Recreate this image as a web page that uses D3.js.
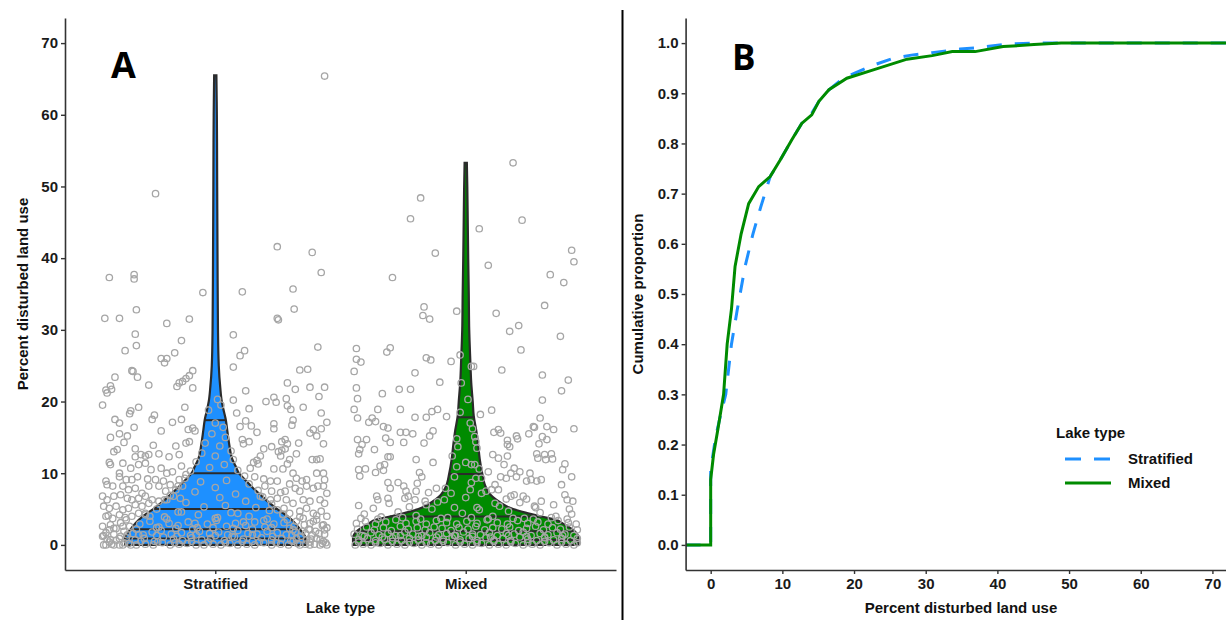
<!DOCTYPE html>
<html><head><meta charset="utf-8">
<script src="https://cdn.jsdelivr.net/npm/d3@7"></script>
<style>
body{margin:0;background:#fff}
svg{display:block}
text{font-family:"Liberation Sans",Arial,sans-serif}
</style>
</head><body>
<svg id="chart" width="1226" height="620"></svg>
<script>
// ---------------- DATA ----------------
const categories = ["Stratified", "Mixed"];
const yTicksA = [0, 10, 20, 30, 40, 50, 60, 70];
const yTicksB = [0, 0.1, 0.2, 0.3, 0.4, 0.5, 0.6, 0.7, 0.8, 0.9, 1.0];
const xTicksB = [0, 10, 20, 30, 40, 50, 60, 70];
const seriesNames = ["Stratified", "Mixed"];

// points: [jitter fraction (-1..1), percent disturbed land use]
const stratifiedPoints = [
[0.97,65.4],[-0.53,49.0],[-0.94,37.3],[-0.72,37.7],[-0.72,37.1],[0.55,41.6],[0.86,40.8],[0.94,38.0],[-0.11,35.2],[0.24,35.3],[0.69,35.7],[0.70,32.9],[-0.70,32.8],
[-0.98,31.6],[-0.85,31.6],[-0.43,30.9],[-0.23,31.5],[-0.71,29.4],[-0.80,27.1],[-0.70,27.8],[-0.30,28.5],[-0.36,26.8],[-0.48,26.0],[-0.43,26.0],[-0.45,25.4],[-0.74,24.3],[-0.73,24.2],[-0.69,23.4],[-0.59,22.3],[-0.89,23.4],[-0.93,22.2],[-0.97,21.6],[-0.96,21.2],[-0.92,21.7],[-0.20,24.3],[-0.23,23.6],[-0.26,23.2],[-0.29,22.8],[-0.32,22.6],[-0.34,22.1],[-0.20,21.9],[-1.0,19.5],[-0.68,19.2],[-0.75,18.7],[-0.76,18.3],[-0.27,19.2],[-0.89,17.5],[-0.85,17.0],[-0.56,17.5],[-0.54,18.1],[-0.72,16.4],[-0.48,15.9],[-0.38,17.1],[-0.30,17.5],[-0.93,15.0],[-0.85,15.5],[-0.78,15.2],[-0.81,14.3],[-0.90,13.0],[-0.87,13.3],[-0.71,13.4],[-0.55,13.9],[-0.35,13.8],[-0.26,14.2],[-0.23,14.4],[-0.24,16.1],[-0.20,16.3],[-0.18,15.9],[-0.94,11.5],[-0.93,11.2],[-0.82,11.4],[-0.71,12.3],[-0.66,12.6],[-0.62,12.4],[-0.59,12.6],[-0.50,12.7],[-0.41,12.3],[-0.32,12.6],[-0.30,11.0],[-0.75,10.7],[-0.68,11.2],[-0.62,11.4],[-0.57,10.5],[-0.48,10.7],[-0.43,10.0],[-0.38,10.2],[-0.85,10.0],[-0.85,9.5],[-0.79,9.1],[-0.74,9.1],[-0.69,9.5],[-0.60,9.2],[-0.53,9.1],[-0.46,8.9],[-0.40,8.4],[-0.32,9.1],[-0.26,9.8],[-0.97,8.9],[-0.96,8.4],[-0.91,8.2],[-0.82,8.2],[-0.77,7.7],[-0.71,7.9],[-0.65,7.2],[-0.59,8.2],[-0.50,8.2],[-0.44,7.5],[-0.35,7.7],[-0.29,8.2],[-1.0,6.8],[-0.96,6.3],[-0.90,6.8],[-0.84,7.0],[-0.78,6.5],[-0.74,6.3],[-0.68,6.5],[-0.62,6.8],[-0.56,6.3],[-0.50,6.1],[-0.43,6.3],[-0.37,6.8],[-0.31,6.5],[-0.99,5.4],[-0.94,5.1],[-0.88,5.4],[-0.82,4.9],[-0.77,5.1],[-0.71,5.6],[-0.65,5.4],[-0.59,5.8],[-0.97,4.0],[-0.91,3.7],[-0.85,4.2],[-0.79,3.5],[-0.74,4.0],[-0.68,4.4],[-0.62,4.2],[-1.0,2.6],[-0.94,2.1],[-0.88,2.3],[-0.82,2.6],[-1.0,1.2],[-0.93,0.7],[-0.85,0.9],[-0.78,1.4],[-0.97,0],[-0.90,0],[-0.82,0],[-0.75,0],
[0.55,31.6],[0.56,31.4],[0.16,29.3],[0.26,27.1],[0.22,26.4],[0.16,24.8],[0.91,27.6],[0.75,24.4],[0.82,24.5],[0.64,22.6],[0.71,21.7],[0.84,22.0],[0.97,22.0],[0.27,21.5],[0.92,20.7],[0.52,20.6],[0.45,20.0],[0.54,19.9],[0.63,20.4],[0.64,19.4],[0.67,18.9],[0.78,19.2],[0.16,20.2],[0.30,19.0],[0.19,18.4],[0.94,18.4],[0.99,17.1],[0.69,17.4],[0.68,16.7],[0.27,17.3],[0.22,16.5],[0.32,16.6],[0.52,16.9],[0.52,16.2],[0.37,15.7],[0.84,15.6],[0.87,16.1],[0.90,15.2],[0.94,16.2],[0.96,14.1],[0.24,14.7],[0.25,14.1],[0.30,14.4],[0.50,13.7],[0.56,13.0],[0.59,14.4],[0.62,14.7],[0.64,14.1],[0.62,13.4],[0.74,14.2],[0.72,12.7],[0.43,13.4],[0.40,12.4],[0.37,11.8],[0.34,11.5],[0.38,11.3],[0.58,12.4],[0.59,13.2],[0.66,11.9],[0.64,11.3],[0.86,11.9],[0.90,11.9],[0.93,12.0],[0.31,10.7],[0.52,10.6],[0.60,10.6],[0.69,10.0],[0.72,9.3],[0.77,8.9],[0.81,9.1],[0.90,10.0],[0.96,10.0],[0.97,9.1],[0.35,9.5],[0.43,9.2],[0.49,8.9],[0.55,8.9],[0.44,8.2],[0.50,7.5],[0.58,7.3],[0.62,7.5],[0.66,8.5],[0.71,7.9],[0.75,7.5],[0.81,8.2],[0.87,7.9],[0.91,8.2],[0.96,8.2],[0.99,7.2],[0.40,6.8],[0.49,6.3],[0.55,6.5],[0.63,6.3],[0.69,5.8],[0.78,6.3],[0.84,6.1],[0.93,6.3],[0.97,5.8],[0.55,4.9],[0.61,5.1],[0.66,4.4],[0.75,4.7],[0.81,5.1],[0.87,4.4],[0.94,4.7],[0.99,4.0],[0.64,3.5],[0.72,3.3],[0.78,3.7],[0.84,3.0],[0.90,3.5],[0.96,2.8],[0.69,2.1],[0.77,1.9],[0.84,2.1],[0.92,1.6],[0.97,2.1],[0.72,0.9],[0.81,0.7],[0.90,0.9],[0.96,0.5],[0.75,0],[0.84,0],[0.93,0],[0.99,0],
[0.02,20.3],[0.05,19.5],[-0.06,18.8],[0.0,17.0],[0.07,16.4],[-0.03,15.5],[0.09,15.0],[-0.09,14.2],[0.04,13.8],[0.14,13.1],[-0.12,12.8],[0.0,12.4],[0.16,11.9],[-0.17,11.6],[0.08,11.2],[-0.05,10.8],[0.2,10.4],[-0.22,10.3],[0.26,9.6],[-0.27,9.3],[0.1,9.0],[-0.13,8.8],[0.3,8.5],[-0.33,8.2],[0.0,8.0],[0.38,7.6],[-0.18,7.4],[0.18,7.1],[-0.4,6.9],[0.42,6.7],[0.04,6.6],[-0.45,6.3],[0.27,6.1],[-0.26,5.9],[0.5,5.7],[0.09,5.5],[-0.1,5.3],[0.36,5.2],[-0.52,5.0],[0.48,4.8],[-0.33,4.6],[0.2,4.4],[0.6,4.2],[-0.58,4.0],[0.02,3.8],[-0.43,3.6],[0.43,3.4],[0.25,3.2],[-0.18,3.0],
[-0.99,0],[-0.92,0.1],[-0.85,0],[-0.77,0.2],[-0.70,0],[-0.62,0.1],[-0.55,0],[-0.47,0.3],[-0.40,0],[-0.32,0.1],[-0.25,0.2],[-0.17,0],[-0.10,0],[-0.02,0.1],[0.05,0],[0.13,0.2],[0.20,0],[0.28,0.1],[0.35,0],[0.43,0.3],[0.50,0],[0.58,0.1],[0.65,0],[0.73,0.2],[0.80,0.1],[0.88,0.1],[0.95,0.2],
[-0.94,0.4],[-0.81,0.3],[-0.66,0.5],[-0.51,0.4],[-0.36,0.3],[-0.21,0.5],[-0.06,0.4],[0.09,0.3],[0.24,0.5],[0.39,0.4],[0.54,0.3],[0.69,0.5],[0.84,0.4],[0.98,0.3],
[-0.96,0.8],[-0.88,0.6],[-0.79,1.0],[-0.71,0.7],[-0.63,0.9],[-0.54,0.5],[-0.46,1.1],[-0.37,0.8],[-0.29,0.6],[-0.21,1.0],[-0.12,0.7],[-0.04,0.9],[0.08,0.6],[0.17,1.1],[0.25,0.8],[0.33,0.5],[0.41,1.0],[0.50,0.7],[0.59,0.9],[0.67,0.6],[0.76,1.2],[0.85,0.8],[0.93,0.7],
[-0.99,1.3],[-0.84,1.2],[-0.68,1.4],[-0.52,1.3],[-0.34,1.2],[-0.17,1.4],[0.0,1.3],[0.15,1.2],[0.33,1.4],[0.51,1.2],[0.68,1.3],[0.86,1.4],
[-0.97,1.7],[-0.90,1.5],[-0.81,1.9],[-0.73,1.6],[-0.64,1.4],[-0.56,1.8],[-0.48,2.0],[-0.39,1.5],[-0.30,1.7],[-0.22,1.3],[-0.14,1.9],[-0.05,1.6],[0.03,1.8],[0.11,1.4],[0.20,2.0],[0.29,1.6],[0.37,1.5],[0.46,1.9],[0.55,1.7],[0.63,1.4],[0.71,1.8],[0.80,1.6],[0.89,1.9],[0.97,1.5],
[-0.9,2.3],[-0.7,2.2],[-0.52,2.4],[-0.35,2.3],[-0.2,2.2],[-0.02,2.4],[0.16,2.3],[0.33,2.2],[0.5,2.4],[0.66,2.3],[0.83,2.2],[0.99,2.4],
[-0.93,2.8],[-0.84,3.1],[-0.76,2.6],[-0.67,2.9],[-0.58,3.3],[-0.50,2.5],[-0.41,3.0],[-0.33,2.7],[-0.24,3.2],[-0.16,2.4],[-0.07,2.9],[0.01,3.4],[0.10,2.6],[0.18,3.0],[0.27,2.7],[0.35,3.2],[0.44,2.5],[0.52,2.9],[0.61,3.1],[0.70,2.6],[0.79,2.8],[0.87,3.3],[0.95,2.7],
[-0.95,4.1],[-0.80,3.8],[-0.62,4.4],[-0.45,3.9],[-0.30,4.6],[-0.15,4.2],[0.0,3.7],[0.14,4.5],[0.30,4.0],[0.46,3.6],[0.60,4.3],[0.75,3.9],[0.90,4.1]
];

const mixedPoints = [
[0.42,53.3],[-0.40,48.4],[-0.49,45.5],[0.50,45.3],[0.12,44.1],[-0.27,40.7],[0.20,39.0],[-0.65,37.3],[0.94,41.1],[0.96,39.5],[0.75,37.7],[0.87,36.6],[0.70,33.4],[-0.37,33.2],
[-0.38,32.0],[-0.32,31.5],[-0.08,32.6],[-0.97,27.4],[-0.97,25.9],[-0.93,25.5],[-0.70,26.9],[-0.67,27.5],[-0.99,24.2],[-0.35,26.1],[-0.31,25.8],[-0.13,25.6],[-0.45,24.0],[-0.97,21.9],[-0.96,20.4],[-0.74,21.1],[-0.59,21.7],[-0.49,21.7],[-0.23,22.7],[-0.99,18.9],[-0.96,17.7],[-0.78,18.9],[-0.58,18.9],[-0.86,17.1],[-0.83,17.7],[-0.80,17.2],[-0.45,17.8],[-0.35,17.8],[-0.30,18.6],[-0.25,18.9],[-0.17,17.9],[-0.73,16.5],[-0.69,16.3],[-0.58,15.7],[-0.53,15.7],[-0.47,15.5],[-0.29,15.9],[-0.32,15.2],[-0.37,14.2],[-0.71,14.9],[-0.67,14.3],[-0.96,14.7],[-0.88,14.7],[-0.92,14.0],[-0.94,13.3],[-0.95,12.7],[-0.55,14.3],[-0.81,13.3],[-0.69,12.3],[-0.67,12.3],[-0.44,11.9],[-0.29,11.5],[-0.95,10.5],[-0.89,10.6],[-0.94,9.6],[-0.80,10.1],[-0.76,11.0],[-0.73,10.4],[-0.72,11.2],[-0.41,10.1],[-0.39,9.5],[-0.43,8.6],[-0.69,8.7],[-0.60,8.7],[-0.67,7.9],[-0.55,8.2],[-0.53,7.5],[-0.44,7.5],[-0.33,7.3],[-0.79,6.8],[-0.78,6.3],[-0.69,6.5],[-0.54,6.5],[-0.51,6.8],[-0.45,6.3],[-0.36,6.1],[-0.26,7.9],[-0.19,6.3],[-0.13,7.2],[-0.08,10.9],[-0.07,13.7],[-0.04,22.6],
[0.27,32.3],[0.39,29.8],[0.47,30.6],[0.84,29.1],[0.49,27.2],[0.05,24.9],[0.32,24.4],[0.68,23.7],[0.91,23.0],[0.85,21.5],[0.68,20.2],[0.23,18.8],[0.13,18.2],[0.66,17.7],[0.60,16.5],[0.61,16.4],[0.72,16.5],[0.78,16.1],[0.96,16.2],[0.25,15.7],[0.29,16.1],[0.31,15.6],[0.56,15.5],[0.45,15.2],[0.46,14.8],[0.68,15.1],[0.72,14.7],[0.65,14.1],[0.37,14.6],[0.37,14.0],[0.39,13.7],[0.24,12.6],[0.29,12.1],[0.37,12.4],[0.63,12.7],[0.64,12.1],[0.70,12.6],[0.71,11.9],[0.76,12.7],[0.77,12.0],[0.88,11.3],[0.86,10.5],[0.94,9.5],[0.34,11.2],[0.43,10.7],[0.40,10.0],[0.48,10.2],[0.45,9.5],[0.31,9.5],[0.36,9.3],[0.57,10.0],[0.58,9.1],[0.54,8.9],[0.63,8.9],[0.67,9.1],[0.20,10.2],[0.26,8.4],[0.29,7.7],[0.23,7.7],[0.40,6.8],[0.43,7.0],[0.51,6.8],[0.54,6.4],[0.36,6.4],[0.85,8.4],[0.88,7.0],[0.95,6.1],[0.90,6.3],[0.67,6.1],[0.61,5.4],[0.04,17.0],[0.08,15.1],[0.09,14.4],[0.05,11.2],[0.08,11.2],[0.09,9.3],[0.14,9.3],[0.04,7.7],[0.14,7.2],
[0.02,20.3],[-0.05,18.5],[0.06,16.2],[-0.08,14.8],[0.10,13.5],[-0.12,12.4],[0.0,11.5],[0.12,10.6],[-0.10,9.5],[0.05,8.7],[-0.18,7.9],[0.18,7.5],[0.0,6.6],[-0.25,6.0],[0.26,5.8],[-0.10,5.2],[0.12,4.9],[-0.05,26.5],[0.07,24.9],
[-0.98,0],[-0.91,0.1],[-0.84,0],[-0.76,0.2],[-0.69,0],[-0.61,0.1],[-0.54,0],[-0.46,0.2],[-0.39,0],[-0.31,0.1],[-0.24,0],[-0.16,0.3],[-0.09,0],[-0.01,0.1],[0.06,0],[0.14,0.2],[0.21,0],[0.29,0.1],[0.36,0],[0.44,0.2],[0.51,0],[0.59,0.1],[0.66,0],[0.74,0.3],[0.81,0],[0.89,0.1],[0.96,0],
[-0.95,0.4],[-0.8,0.3],[-0.65,0.5],[-0.5,0.4],[-0.35,0.3],[-0.2,0.5],[-0.05,0.4],[0.1,0.3],[0.25,0.5],[0.4,0.4],[0.55,0.3],[0.7,0.5],[0.85,0.4],[0.99,0.3],
[-0.95,0.7],[-0.87,0.9],[-0.80,0.6],[-0.72,0.8],[-0.65,1.0],[-0.57,0.6],[-0.50,0.9],[-0.42,0.7],[-0.35,1.1],[-0.27,0.6],[-0.20,0.8],[-0.12,1.0],[-0.05,0.7],[0.03,0.9],[0.10,0.6],[0.18,1.0],[0.25,0.7],[0.33,0.9],[0.40,0.6],[0.48,1.1],[0.55,0.8],[0.63,0.6],[0.70,1.0],[0.78,0.7],[0.85,0.9],[0.93,0.6],[0.99,0.9],
[-0.9,1.2],[-0.74,1.1],[-0.58,1.3],[-0.42,1.2],[-0.26,1.1],[-0.1,1.3],[0.06,1.2],[0.22,1.1],[0.38,1.3],[0.54,1.2],[0.7,1.1],[0.86,1.3],
[-0.99,1.5],[-0.92,1.3],[-0.84,1.7],[-0.77,1.4],[-0.69,1.6],[-0.62,1.3],[-0.54,1.8],[-0.47,1.5],[-0.39,1.3],[-0.32,1.7],[-0.24,1.4],[-0.17,1.6],[-0.09,1.3],[-0.02,1.8],[0.06,1.5],[0.13,1.4],[0.21,1.7],[0.28,1.3],[0.36,1.6],[0.43,1.5],[0.51,1.8],[0.58,1.3],[0.66,1.6],[0.73,1.4],[0.81,1.7],[0.88,1.5],[0.96,1.3],
[-0.96,2.2],[-0.88,2.5],[-0.81,2.1],[-0.73,2.4],[-0.66,2.0],[-0.58,2.6],[-0.51,2.2],[-0.43,2.4],[-0.36,2.1],[-0.28,2.5],[-0.21,2.3],[-0.13,2.0],[-0.06,2.4],[0.02,2.2],[0.09,2.6],[0.17,2.1],[0.24,2.4],[0.32,2.2],[0.39,2.5],[0.47,2.0],[0.54,2.3],[0.62,2.6],[0.69,2.1],[0.77,2.4],[0.84,2.2],[0.92,2.5],[0.99,2.1],
[-0.97,3.0],[-0.89,3.3],[-0.80,2.9],[-0.71,3.2],[-0.62,3.5],[-0.53,3.0],[-0.44,3.3],[-0.35,2.9],[-0.26,3.4],[-0.17,3.1],[-0.08,2.9],[0.01,3.3],[0.10,3.0],[0.19,3.5],[0.28,3.1],[0.37,2.9],[0.46,3.4],[0.55,3.0],[0.64,3.2],[0.73,2.9],[0.82,3.4],[0.91,3.1],[0.98,2.9],
[-0.93,3.7],[-0.78,3.6],[-0.56,3.8],[-0.4,3.6],[-0.22,3.7],[0.05,3.8],[0.2,3.6],[0.42,3.7],[0.6,3.6],[0.76,3.8],[0.9,3.6],
[-0.9,4.3],[-0.75,3.9],[-0.6,4.6],[-0.44,4.1],[-0.3,5.0],[-0.16,3.8],[-0.03,4.4],[0.1,5.2],[0.24,4.0],[0.38,4.7],[0.52,3.7],[0.66,4.5],[0.8,4.0],[0.94,4.3],
[-0.95,5.5],[-0.82,5.1],[-0.68,5.8],[-0.5,5.3],[-0.35,5.6],[0.3,5.4],[0.48,5.9],[0.62,5.2],[0.78,5.6],[0.92,5.0]
];

// violin profile: [value, relative density (1 = widest)]
const stratifiedDensity = [[0,0.80],[1,0.80],[2,0.76],[3,0.71],[4,0.64],[5,0.55],[6,0.47],[7,0.40],[8,0.33],[9,0.27],[10,0.21],[11,0.18],[12,0.15],[14,0.124],[16,0.106],[17.5,0.093],[19,0.071],[20,0.058],[22,0.044],[25,0.031],[30,0.024],[40,0.02],[50,0.017],[60,0.014],[65.5,0.01]];
const mixedDensity = [[0,1.0],[1,1.0],[2,0.96],[3,0.86],[3.5,0.80],[4,0.66],[4.5,0.53],[5,0.42],[5.5,0.35],[6.3,0.27],[7,0.22],[8,0.18],[10,0.146],[12,0.124],[14,0.11],[16,0.093],[18,0.071],[20,0.062],[22.6,0.049],[26,0.04],[30,0.031],[35,0.027],[40,0.022],[45,0.018],[50,0.014],[53.3,0.01]];
const stratifiedQuantiles = [0.9, 2.2, 5.0, 10.0, 17.4];
const mixedQuantiles = [0.7, 1.9, 3.95, 9.9, 17.8];

// cumulative proportion curves: [percent disturbed land use, cumulative proportion]
const stratifiedEcdf = [[-3.5,0],[0,0],[0,0.15],[0.7,0.216],[1.4,0.26],[2.1,0.30],[2.9,0.40],[3.7,0.468],[4.8,0.555],[5.9,0.62],[7.0,0.674],[8.3,0.734],[9.7,0.767],[11.3,0.807],[12.7,0.84],[14.1,0.86],[15.1,0.884],[16.5,0.907],[18.5,0.93],[20.1,0.94],[22.5,0.955],[25.5,0.97],[28,0.976],[30.9,0.981],[34.8,0.988],[38,0.992],[41.3,0.998],[45,1.0],[75,1.0]];
const mixedEcdf = [[-3.5,0],[0,0],[0,0.13],[0.4,0.18],[1.0,0.23],[1.8,0.30],[2.3,0.40],[2.9,0.47],[3.4,0.555],[4.25,0.62],[5.3,0.68],[6.7,0.714],[8.3,0.734],[9.7,0.767],[11.3,0.807],[12.7,0.84],[14.1,0.857],[15.1,0.884],[16.5,0.907],[19.0,0.93],[22.8,0.947],[27.4,0.968],[30.9,0.975],[33.7,0.983],[36.9,0.983],[40.8,0.993],[45.1,0.997],[48.9,1.0],[75,1.0]];

// ---------------- DRAWING ----------------
const svg = d3.select("#chart");
const colors = {Stratified: "#1E90FF", Mixed: "#008B00"};
const axisColor = "#333";
const textColor = "#1a1a1a";

function styleAxis(g) {
  g.selectAll(".domain").attr("stroke", axisColor).attr("stroke-width", 1.6);
  g.selectAll(".tick line").attr("stroke", axisColor).attr("stroke-width", 1.4);
  g.selectAll(".tick text").attr("fill", textColor).style("font-size", "15px").style("font-weight", "bold");
}

// ===== Panel A =====
const xA = d3.scalePoint().domain(categories).range([65, 616]).padding(0.6);
const yA = d3.scaleLinear().domain([-3.5, 73.5]).range([570, 18]);
const halfW = xA.step() * 0.45;
const wScale = d3.scaleLinear().domain([0, 1]).range([0, halfW]);

const groupsA = [
  {name: "Stratified", pts: stratifiedPoints, dens: stratifiedDensity, q: stratifiedQuantiles},
  {name: "Mixed", pts: mixedPoints, dens: mixedDensity, q: mixedQuantiles}
];

function densAt(dens, v) {
  for (let i = 0; i < dens.length - 1; i++) {
    if (v >= dens[i][0] && v <= dens[i+1][0]) {
      const t = (v - dens[i][0]) / (dens[i+1][0] - dens[i][0]);
      return dens[i][1] + t * (dens[i+1][1] - dens[i][1]);
    }
  }
  return 0;
}

const gA = svg.append("g");
groupsA.forEach(gr => {
  const cx = xA(gr.name);
  const area = d3.area().curve(d3.curveMonotoneY)
    .y(d => yA(d[0]))
    .x0(d => cx - wScale(d[1]))
    .x1(d => cx + wScale(d[1]));
  gA.append("path").datum(gr.dens).attr("d", area)
    .attr("fill", colors[gr.name]).attr("stroke", "#2b2b2b").attr("stroke-width", 2.2);
  gA.selectAll(null).data(gr.q).enter().append("line")
    .attr("x1", d => cx - wScale(densAt(gr.dens, d)))
    .attr("x2", d => cx + wScale(densAt(gr.dens, d)))
    .attr("y1", d => yA(d)).attr("y2", d => yA(d))
    .attr("stroke", "#2b2b2b").attr("stroke-width", 2);
});
groupsA.forEach(gr => {
  const cx = xA(gr.name);
  gA.selectAll(null).data(gr.pts).enter().append("circle")
    .attr("cx", d => cx + d[0] * halfW)
    .attr("cy", d => yA(d[1]))
    .attr("r", 3.2)
    .attr("fill", "none")
    .attr("stroke", "#a6a6a6")
    .attr("stroke-width", 1.3);
});

svg.append("g").attr("transform", "translate(65,0)")
  .call(d3.axisLeft(yA).tickValues(yTicksA).tickSize(4).tickSizeOuter(0).tickPadding(3))
  .call(styleAxis);
svg.append("g").attr("transform", "translate(0,570)")
  .call(d3.axisBottom(xA).tickSize(4).tickSizeOuter(0).tickPadding(4))
  .call(styleAxis);

svg.append("text").attr("transform", "translate(27.5,294) rotate(-90)")
  .attr("text-anchor", "middle").style("font-size", "15px").style("font-weight", "bold")
  .attr("fill", "#111").text("Percent disturbed land use");
svg.append("text").attr("x", 340.5).attr("y", 613)
  .attr("text-anchor", "middle").style("font-size", "15px").style("font-weight", "bold")
  .attr("fill", "#111").text("Lake type");
svg.append("text").attr("x", 111).attr("y", 78)
  .style("font-family", "'Open Sans',sans-serif").style("font-size", "36px").style("font-weight", "bold")
  .attr("fill", "#000").text("A");

// separator
svg.append("line").attr("x1", 622.5).attr("x2", 622.5).attr("y1", 10).attr("y2", 620)
  .attr("stroke", "#000").attr("stroke-width", 2);

// ===== Panel B =====
const xB = d3.scaleLinear().domain([-3.5, 73.5]).range([685.6, 1237.5]);
const yB = d3.scaleLinear().domain([-0.05, 1.05]).range([570, 18]);

svg.append("defs").append("clipPath").attr("id", "clipB")
  .append("rect").attr("x", 685.6).attr("y", 10).attr("width", 560).attr("height", 570);

const lineB = d3.line().x(d => xB(d[0])).y(d => yB(d[1]));
const gB = svg.append("g").attr("clip-path", "url(#clipB)");
gB.append("path").datum(stratifiedEcdf).attr("d", lineB)
  .attr("fill", "none").attr("stroke", colors.Stratified).attr("stroke-width", 3)
  .attr("stroke-dasharray", "15,13");
gB.append("path").datum(mixedEcdf).attr("d", lineB)
  .attr("fill", "none").attr("stroke", colors.Mixed).attr("stroke-width", 3);

svg.append("g").attr("transform", "translate(685.6,0)")
  .call(d3.axisLeft(yB).tickValues(yTicksB).tickFormat(d3.format(".1f")).tickSize(4).tickSizeOuter(0).tickPadding(3))
  .call(styleAxis);
svg.append("g").attr("transform", "translate(0,570)")
  .call(d3.axisBottom(xB).tickValues(xTicksB).tickSize(4).tickSizeOuter(0).tickPadding(4))
  .call(styleAxis);

svg.append("text").attr("transform", "translate(643,294) rotate(-90)")
  .attr("text-anchor", "middle").style("font-size", "15px").style("font-weight", "bold")
  .attr("fill", "#111").text("Cumulative proportion");
svg.append("text").attr("x", 961).attr("y", 613)
  .attr("text-anchor", "middle").style("font-size", "15px").style("font-weight", "bold")
  .attr("fill", "#111").text("Percent disturbed land use");
svg.append("text").attr("x", 732).attr("y", 70)
  .style("font-family", "'Open Sans',sans-serif").style("font-size", "35px").style("font-weight", "bold")
  .attr("fill", "#000").text("B");

// legend
const leg = svg.append("g");
leg.append("text").attr("x", 1056).attr("y", 438)
  .style("font-size", "15px").style("font-weight", "bold").attr("fill", "#111").text("Lake type");
seriesNames.forEach((s, i) => {
  const y = 459 + i * 24;
  leg.append("line").attr("x1", 1065).attr("x2", 1111).attr("y1", y).attr("y2", y)
    .attr("stroke", colors[s]).attr("stroke-width", 3)
    .attr("stroke-dasharray", s === "Stratified" ? "16,13" : null);
  leg.append("text").attr("x", 1128).attr("y", y + 5)
    .style("font-size", "15px").style("font-weight", "bold").attr("fill", "#111").text(s);
});
</script>
</body></html>
